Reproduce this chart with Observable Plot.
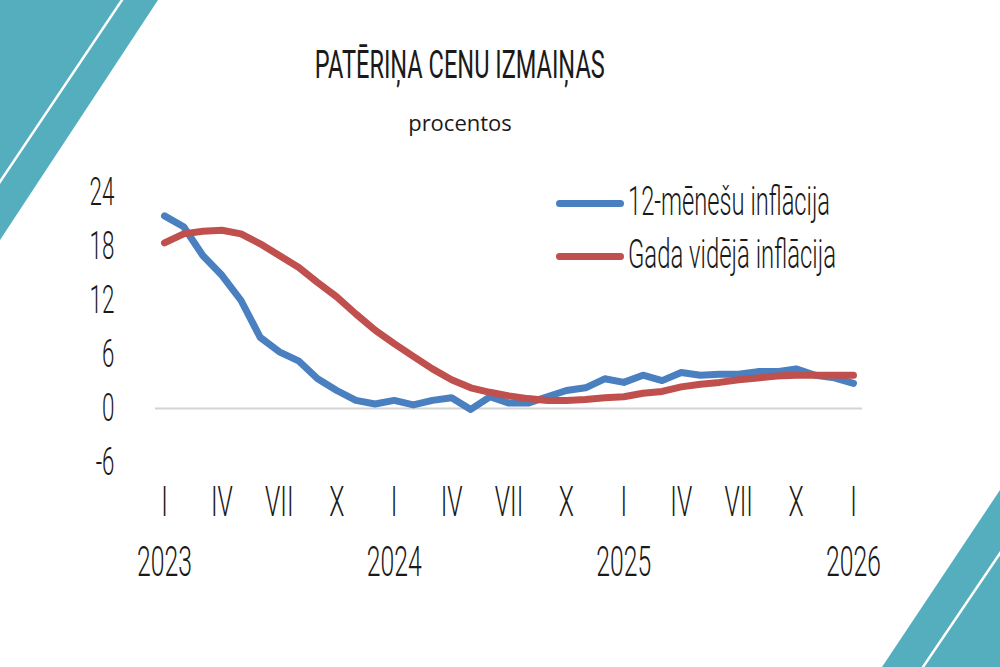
<!DOCTYPE html>
<html>
<head>
<meta charset="utf-8">
<script src="https://cdn.jsdelivr.net/npm/d3@7"></script>
<script src="https://cdn.jsdelivr.net/npm/@observablehq/plot@0.6"></script>
<style>
  html, body { margin:0; padding:0; background:#fff; }
  #page { position:relative; width:1000px; height:667px; overflow:hidden; background:#fff; font-family:Roboto, "Open Sans", sans-serif; color:#1a1a1a; }
  .deco { position:absolute; background:#55aebd; }
  .stripe { position:absolute; background:#fff; }
  .cond { display:inline-block; white-space:nowrap; }
  #title { position:absolute; left:0; width:920px; top:43px; text-align:center; font-size:38px; font-weight:400; }
  #sub { position:absolute; left:0; width:920px; top:107px; text-align:center; font-size:22px; font-family:"Open Sans", Lato, sans-serif; }
  #chart { position:absolute; left:0; top:150px; }
  .leg { position:absolute; left:556px; height:40px; }
  .leg .sw { position:absolute; left:0; width:68px; height:7px; border-radius:4px; }
  .leg .lt { position:absolute; left:72px; font-size:41px; font-weight:300; transform-origin:left center; }
</style>
</head>
<body>
<div id="page">
  <div class="deco" style="left:0;top:0;width:160px;height:242px;clip-path:polygon(0 0,158px 0,0 240px);"></div>
  <div class="stripe" style="left:0;top:0;width:130px;height:190px;clip-path:polygon(120.5px 0,123.5px 0,0 184px,0 179.5px);"></div>
  <div class="deco" style="left:870px;top:480px;width:130px;height:187px;clip-path:polygon(130px 10px,130px 187px,12px 187px);"></div>
  <div class="stripe" style="left:870px;top:480px;width:130px;height:187px;clip-path:polygon(130px 71px,130px 75.5px,54.5px 187px,51.5px 187px);"></div>
  <div id="title"><span class="cond" id="titleText">PATĒRIŅA CENU IZMAIŅAS</span></div>
  <div id="sub">procentos</div>
  <div id="chart"></div>
  <div class="leg" style="top:183px;"><div class="sw" style="top:17px;background:#4a7fc0;"></div><span class="lt cond" data-w="202" style="top:-6px;">12-mēnešu inflācija</span></div>
  <div class="leg" style="top:236px;"><div class="sw" style="top:17px;background:#c0504d;"></div><span class="lt cond" data-w="208" style="top:-6px;">Gada vidējā inflācija</span></div>
</div>
<script>
// Month index 0 = January 2023 ... 36 = January 2026
const months = d3.range(37);
const inflation12 = [21.4,20.2,17.0,14.8,12.0,7.9,6.3,5.3,3.3,2.0,0.9,0.5,0.9,0.4,0.9,1.2,-0.1,1.3,0.6,0.6,1.3,2.0,2.3,3.3,2.9,3.7,3.1,4.0,3.7,3.8,3.8,4.1,4.1,4.4,3.7,3.4,2.8];
const inflationAvg = [18.4,19.4,19.7,19.8,19.4,18.3,17.0,15.7,14.0,12.4,10.5,8.7,7.2,5.8,4.4,3.2,2.3,1.8,1.4,1.1,0.9,0.9,1.0,1.2,1.3,1.7,1.9,2.4,2.7,2.9,3.2,3.4,3.6,3.7,3.7,3.7,3.7];
const monthTicks = [0,3,6,9,12,15,18,21,24,27,30,33,36];
const monthLabels = ["I","IV","VII","X","I","IV","VII","X","I","IV","VII","X","I"];
const yearTicks = [0,12,24,36];
const yearLabels = ["2023","2024","2025","2026"];
const yTicks = [-6,0,6,12,18,24];

const yFont = {fontSize:38, fontWeight:300, fontFamily:"Roboto, sans-serif"};
const xFont = {fontSize:42, fontWeight:300, fontFamily:"Roboto, sans-serif"};

const chart = Plot.plot({
  width:1000, height:517,
  marginLeft:164, marginRight:147, marginTop:42, marginBottom:205,
  style:{color:"#1a1a1a", background:"transparent", overflow:"visible"},
  x:{type:"linear", domain:[0,36], axis:null},
  y:{domain:[-6,24], axis:null},
  marks:[
    Plot.ruleY([0], {stroke:"#d4d4d4", strokeWidth:2, insetLeft:-9, insetRight:-9}),
    Plot.axisY(yTicks, {anchor:"left", tickSize:0, tickPadding:50, tickFormat:d=>String(d), ...yFont, ariaLabel:"yticks"}),
    Plot.axisX(monthTicks, {anchor:"bottom", tickSize:0, tickPadding:24, tickFormat:d=>monthLabels[monthTicks.indexOf(d)], ...xFont, ariaLabel:"mticks"}),
    Plot.axisX(yearTicks, {anchor:"bottom", tickSize:0, tickPadding:84, tickFormat:d=>yearLabels[yearTicks.indexOf(d)], ...xFont, ariaLabel:"yearticks"}),
    Plot.line(months, {x:d=>d, y:d=>inflation12[d], stroke:"#4a7fc0", strokeWidth:7, strokeLinejoin:"round", strokeLinecap:"round"}),
    Plot.line(months, {x:d=>d, y:d=>inflationAvg[d], stroke:"#c0504d", strokeWidth:7, strokeLinejoin:"round", strokeLinecap:"round"})
  ]
});
document.getElementById("chart").appendChild(chart);

// condense axis text horizontally (narrow typeface look); y is untouched by scale(s,1)
function condense(text, s) {
  let tr = text.getAttribute("transform") || "";
  const x = text.getAttribute("x");
  if (x !== null && /^-?[\d.]+$/.test(x.trim())) {
    tr += ` translate(${x},0)`;
    text.removeAttribute("x");
  }
  text.setAttribute("transform", (tr + ` scale(${s},1)`).trim());
}
const svg = d3.select(chart);
const texts = svg.selectAll("text").nodes();
const yearNode = texts.find(t => t.textContent === "2023");
const s = yearNode ? 55 / yearNode.getBBox().width : 0.6;
texts.forEach(t => condense(t, s));

// condense HTML texts to target widths
const tt = document.getElementById("titleText");
tt.style.transform = `scaleX(${290 / tt.getBoundingClientRect().width})`;
document.querySelectorAll(".lt").forEach(el => {
  el.style.transform = `scaleX(${(+el.dataset.w) / el.getBoundingClientRect().width})`;
});
</script>
</body>
</html>
